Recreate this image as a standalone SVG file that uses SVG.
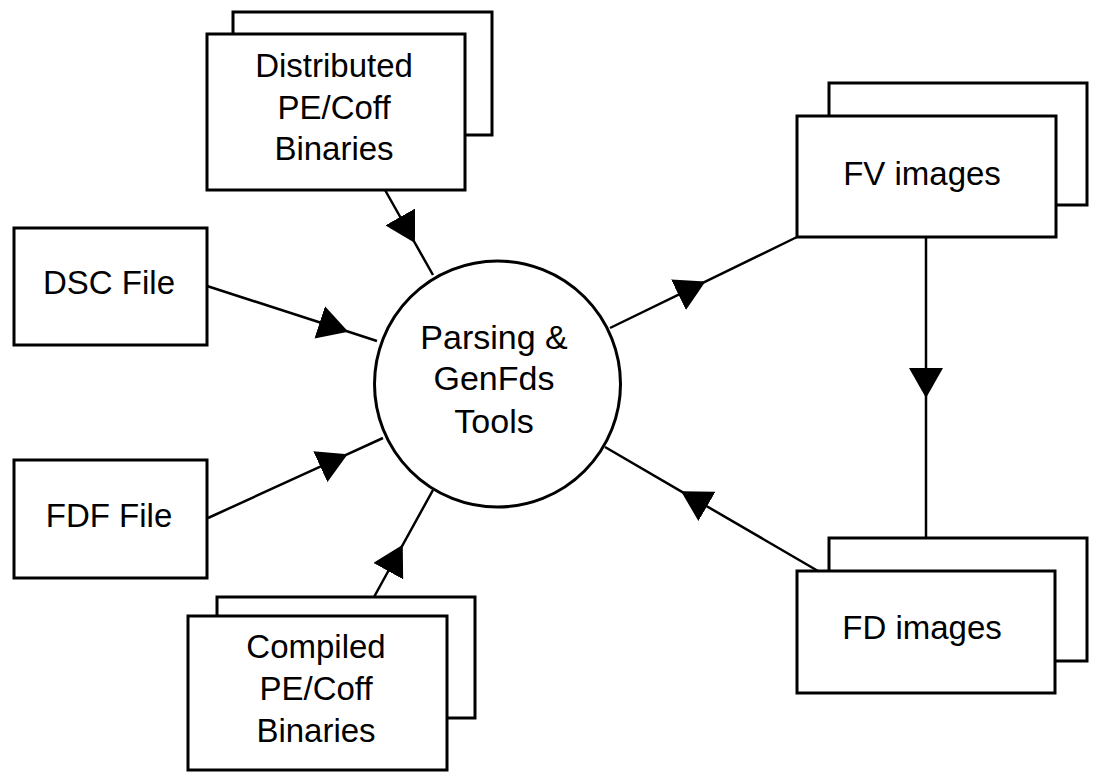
<svg xmlns="http://www.w3.org/2000/svg" width="1108" height="783" viewBox="0 0 1108 783">
<style>
.box{fill:#fff;stroke:#000;stroke-width:3}
.edge{fill:none;stroke:#000;stroke-width:2.5;marker-mid:url(#ah)}
.t{font-family:"Liberation Sans",Arial,sans-serif;font-size:33px;fill:#000;text-anchor:middle}
.tc{font-size:34px}
</style>
<defs>
<marker id="ah" viewBox="-15 -17 30 34" markerWidth="30" markerHeight="34" refX="0" refY="0" orient="auto" markerUnits="userSpaceOnUse">
<path d="M-15,-17 L15,0 L-15,17 Z" fill="#000"/>
</marker>
</defs>
<rect width="1108" height="783" fill="#fff"/>
<g id="connectors">
<path class="edge" d="M385,190 L407.6,230 L433,275"/>
<path class="edge" d="M207,286 L334,327 L377,341"/>
<path class="edge" d="M208,518 L334,460.4 L383,438"/>
<path class="edge" d="M374,597 L395.5,558 L433,490"/>
<path class="edge" d="M610,328 L692,288.1 L797,237"/>
<path class="edge" d="M818,571 L694,498.8 L605,447"/>
<path class="edge" d="M926,237 L926,383 L926,538"/>
</g>
<g id="distributed">
<rect class="box" x="233" y="12" width="259" height="123"/>
<rect class="box" x="207" y="34" width="258" height="156"/>
<text class="t" x="334" y="77">Distributed</text>
<text class="t" x="334" y="119">PE/Coff</text>
<text class="t" x="334" y="160">Binaries</text>
</g>
<g id="dsc">
<rect class="box" x="14" y="228" width="193" height="117"/>
<text class="t" x="109" y="294">DSC File</text>
</g>
<g id="fdf">
<rect class="box" x="14" y="460" width="193" height="118"/>
<text class="t" x="109" y="527">FDF File</text>
</g>
<g id="compiled">
<rect class="box" x="217" y="597" width="258" height="121"/>
<rect class="box" x="188" y="616" width="259" height="154"/>
<text class="t" x="316" y="658">Compiled</text>
<text class="t" x="316" y="700">PE/Coff</text>
<text class="t" x="316" y="742">Binaries</text>
</g>
<g id="tools">
<circle class="box" cx="497.5" cy="384" r="123" stroke-width="2.5"/>
<text class="t tc" x="494" y="349">Parsing &amp;</text>
<text class="t tc" x="494" y="390">GenFds</text>
<text class="t tc" x="494" y="433">Tools</text>
</g>
<g id="fv">
<rect class="box" x="829" y="83" width="258" height="122"/>
<rect class="box" x="797" y="116" width="259" height="121"/>
<text class="t" x="922" y="185">FV images</text>
</g>
<g id="fd">
<rect class="box" x="829" y="538" width="258" height="123"/>
<rect class="box" x="797" y="571" width="258" height="122"/>
<text class="t" x="922" y="639">FD images</text>
</g>
</svg>
